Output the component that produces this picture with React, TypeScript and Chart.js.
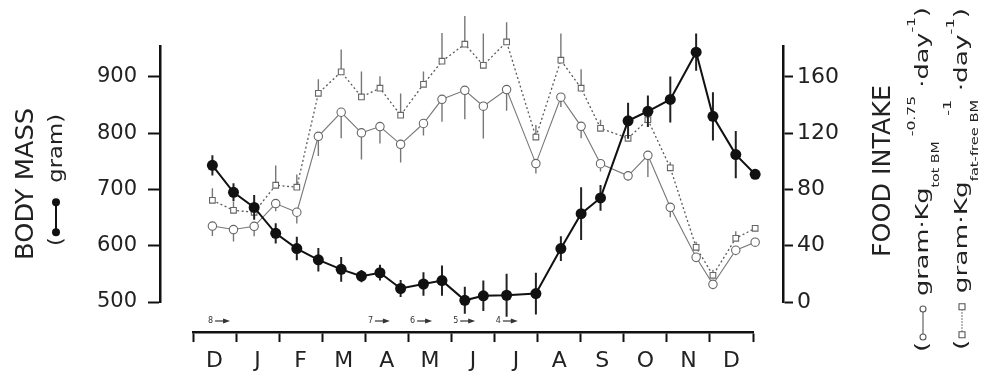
import React, { useEffect, useRef } from 'react';
import { Chart, registerables } from 'chart.js';

Chart.register(...registerables);

// ---------- data ----------
const MONTHS = ['D', 'J', 'F', 'M', 'A', 'M', 'J', 'J', 'A', 'S', 'O', 'N', 'D'];
// sampling times, in months from the start of the first December
const SAMPLE_MONTH = [0.45, 0.94, 1.42, 1.92, 2.41, 2.91, 3.44, 3.91, 4.34, 4.82, 5.35, 5.78, 6.31, 6.74, 7.28, 7.96, 8.54, 9.01, 9.46, 10.1, 10.56, 11.08, 11.68, 12.07, 12.6, 13.05];
const BODY_MASS = [743, 695, 668, 622, 595, 575, 558, 546, 552, 524, 532, 538, 503, 511, 512, 515, 595, 657, 685, 822, 839, 860, 944, 830, 762, 727];
const BODY_MASS_SE = [18, 16, 22, 18, 21, 21, 22, 11, 14, 15, 21, 27, 24, 27, 38, 37, 22, 47, 23, 32, 28, 41, 33, 43, 42, 47];
const INTAKE_TOT = [54, 51.5, 53.8, 70, 63.8, 117.8, 134.9, 120.3, 124.7, 112.1, 126.9, 144.1, 150.5, 139.2, 151, 98.4, 145.6, 124.9, 98.3, 89.7, 104.3, 67.3, 31.8, 12.6, 36.8, 42.5];
const INTAKE_TOT_SE = [7, 8.5, 7, 5.5, 8, 14, 18.5, 19, 12, 13, 8.5, 16, 20.5, 23, 15, 7, 7, 8.5, 5.5, 3.5, 15.5, 7, 3.5, 3.5, 3.5, 3.5];
const INTAKE_FF = [72.3, 65.2, 63.8, 83, 81.6, 148.4, 163.6, 145.8, 152, 132.8, 154.8, 171.2, 183.3, 168.3, 184.9, 117.3, 171.9, 152, 123.5, 116.4, 129.6, 95.4, 38.9, 19, 45.3, 52.4];
const INTAKE_FF_SE = [8.5, 6, 6, 14, 9, 10, 16, 18, 8.5, 15.5, 9, 20, 20, 22.5, 14, 8.5, 19, 13.5, 6, 6, 10, 4, 4, 4, 5, 6];
const MASS_TICKS = [500, 600, 700, 800, 900];
const INTAKE_TICKS = [0, 40, 80, 120, 160];
const ARROW_LABELS = ['8', '7', '6', '5', '4'];
const ARROW_MONTH = [0.35, 4.06, 5.04, 6.04, 7.03];

const FAM = '"DejaVu Sans", "Liberation Sans", sans-serif';
const INK = '#222';

// ---------- helpers ----------
const pts = (vals: number[]) => SAMPLE_MONTH.map((m, i) => ({ x: m, y: vals[i] }));
const errPts = (vals: number[], errs: number[], dir: number) =>
  SAMPLE_MONTH.flatMap((m, i) => [
    { x: m, y: dir <= 0 ? vals[i] - errs[i] : vals[i] },
    { x: m, y: dir >= 0 ? vals[i] + errs[i] : vals[i] },
    { x: m, y: null as any },
  ]);

type Run = { t?: string; size?: number; dy?: number; stack?: boolean; sym?: 'dot' | 'circle' | 'square'; len?: number };

function drawSym(ctx: CanvasRenderingContext2D, kind: string, x: number, len: number, cy: number) {
  const a = x + 5, b = x + len - 5;
  ctx.save();
  if (kind === 'dot') {
    ctx.strokeStyle = '#111'; ctx.fillStyle = '#111'; ctx.lineWidth = 2;
    ctx.beginPath(); ctx.moveTo(a, cy); ctx.lineTo(b, cy); ctx.stroke();
    [a, b].forEach((p) => { ctx.beginPath(); ctx.arc(p, cy, 4, 0, Math.PI * 2); ctx.fill(); });
  } else {
    ctx.strokeStyle = '#555'; ctx.lineWidth = 1.1;
    if (kind === 'square') ctx.setLineDash([1.5, 1.5]);
    ctx.beginPath(); ctx.moveTo(a + 3, cy); ctx.lineTo(b - 3, cy); ctx.stroke();
    ctx.setLineDash([]);
    ctx.fillStyle = '#fff';
    [a, b].forEach((p) => {
      ctx.beginPath();
      if (kind === 'circle') ctx.arc(p, cy, 3, 0, Math.PI * 2);
      else ctx.rect(p - 3, cy - 3, 6, 6);
      ctx.fill(); ctx.stroke();
    });
  }
  ctx.restore();
}

function drawVertical(ctx: CanvasRenderingContext2D, bx: number, yBottom: number, yTop: number, runs: Run[], symCy: number) {
  const widths = runs.map((r) => {
    if (r.sym) return 0;
    ctx.font = `${r.size}px ${FAM}`;
    return ctx.measureText(r.t as string).width;
  });
  let nat = 0, symLen = 0;
  runs.forEach((r, i) => {
    if (r.sym) symLen += r.len as number;
    else if (!r.stack) nat += widths[i];
  });
  const sx = (yBottom - yTop - symLen) / nat;
  ctx.save();
  ctx.translate(bx, yBottom);
  ctx.rotate(-Math.PI / 2);
  ctx.fillStyle = INK;
  ctx.textAlign = 'left';
  ctx.textBaseline = 'alphabetic';
  let cur = 0;
  runs.forEach((r, i) => {
    if (r.sym) { drawSym(ctx, r.sym, cur, r.len as number, symCy); cur += r.len as number; return; }
    ctx.font = `${r.size}px ${FAM}`;
    const w = widths[i] * sx;
    const x0 = r.stack ? cur - w : cur;
    ctx.save(); ctx.translate(x0, r.dy || 0); ctx.scale(sx, 1); ctx.fillText(r.t as string, 0, 0); ctx.restore();
    if (!r.stack) cur += w;
  });
  ctx.restore();
}

// move the axes outward/downward from the data area, as in the original figure
const AXIS_SHIFT = { left: 33, right: 30, bottom: 30 };
const shiftAxes = {
  id: 'shiftAxes',
  afterLayout(chart: any) {
    const s = chart.scales;
    s.y.left -= AXIS_SHIFT.left; s.y.right -= AXIS_SHIFT.left;
    s.yR.left += AXIS_SHIFT.right; s.yR.right += AXIS_SHIFT.right;
    s.xm.top += AXIS_SHIFT.bottom; s.xm.bottom += AXIS_SHIFT.bottom;
  },
};

const annotations = {
  id: 'annotations',
  afterDraw(chart: any) {
    const ctx: CanvasRenderingContext2D = chart.ctx;
    const xs = chart.scales.x;
    const bottom = chart.chartArea.bottom;
    // small "n →" markers above the month axis
    ctx.save();
    ctx.fillStyle = '#333'; ctx.strokeStyle = '#333';
    ctx.font = `8px ${FAM}`; ctx.textBaseline = 'middle'; ctx.textAlign = 'left';
    ARROW_LABELS.forEach((lab, i) => {
      const x = xs.getPixelForValue(ARROW_MONTH[i]);
      const y = bottom + 19;
      ctx.fillText(lab, x, y);
      const a = x + 7, b = x + 22;
      ctx.lineWidth = 1.2;
      ctx.beginPath(); ctx.moveTo(a, y); ctx.lineTo(b - 5, y); ctx.stroke();
      ctx.beginPath(); ctx.moveTo(b, y); ctx.lineTo(b - 7, y - 2.5); ctx.lineTo(b - 7, y + 2.5); ctx.closePath(); ctx.fill();
    });
    ctx.restore();

    // axis titles
    drawVertical(ctx, 33, 260, 108, [{ t: 'BODY MASS', size: 25 }], 0);
    drawVertical(ctx, 62, 246, 114, [{ t: '(', size: 20 }, { sym: 'dot', len: 40 }, { t: '  gram)', size: 20 }], -6);
    drawVertical(ctx, 890, 257, 85, [{ t: 'FOOD INTAKE', size: 25 }], 0);
    drawVertical(ctx, 928, 352, 7, [
      { t: '(', size: 18 }, { sym: 'circle', len: 38 }, { t: ' gram·Kg', size: 18 },
      { t: 'tot BM', size: 10, dy: 11 }, { t: ' -0.75', size: 11, dy: -13 },
      { t: ' ·day', size: 18 }, { t: '-1', size: 11, dy: -13 }, { t: ')', size: 18 },
    ], -5);
    drawVertical(ctx, 967, 350, 8, [
      { t: '(', size: 18 }, { sym: 'square', len: 38 }, { t: ' gram·Kg', size: 18 },
      { t: 'fat-free BM', size: 10, dy: 11 }, { t: '-1', size: 11, dy: -16, stack: true },
      { t: ' ·day', size: 18 }, { t: '-1', size: 11, dy: -13 }, { t: ')', size: 18 },
    ], -5);
  },
};

export default function App() {
  const ref = useRef<HTMLCanvasElement>(null);
  useEffect(() => {
    document.body.style.margin = '0';
    document.body.style.background = '#fff';
    const lineBase = { xAxisID: 'x', tension: 0, clip: false as any };
    const chart = new Chart(ref.current as HTMLCanvasElement, {
      type: 'line',
      data: {
        labels: MONTHS,
        datasets: [
          {
            ...lineBase, label: 'Body mass', data: pts(BODY_MASS), yAxisID: 'y',
            borderColor: '#111', borderWidth: 2, pointRadius: 5.5, pointBackgroundColor: '#111',
            pointBorderColor: '#111', pointBorderWidth: 0, order: 0,
          },
          {
            ...lineBase, label: 'Body mass SE', data: errPts(BODY_MASS, BODY_MASS_SE, 0), yAxisID: 'y',
            borderColor: '#222', borderWidth: 2, pointRadius: 0, spanGaps: false, order: 1,
          },
          {
            ...lineBase, label: 'Intake fat-free BM', data: pts(INTAKE_FF), yAxisID: 'yR',
            borderColor: '#5a5a5a', borderWidth: 1.3, borderDash: [2, 2.5], pointStyle: 'rect', pointRadius: 4,
            pointBackgroundColor: '#fff', pointBorderColor: '#666', pointBorderWidth: 1.1, order: 2,
          },
          {
            ...lineBase, label: 'Intake tot BM', data: pts(INTAKE_TOT), yAxisID: 'yR',
            borderColor: '#777', borderWidth: 1.1, pointStyle: 'circle', pointRadius: 4.2,
            pointBackgroundColor: '#fff', pointBorderColor: '#666', pointBorderWidth: 1.1, order: 3,
          },
          {
            ...lineBase, label: 'Intake fat-free SE', data: errPts(INTAKE_FF, INTAKE_FF_SE, 1), yAxisID: 'yR',
            borderColor: '#777', borderWidth: 1.4, pointRadius: 0, spanGaps: false, order: 4,
          },
          {
            ...lineBase, label: 'Intake tot SE', data: errPts(INTAKE_TOT, INTAKE_TOT_SE, -1), yAxisID: 'yR',
            borderColor: '#777', borderWidth: 1.4, pointRadius: 0, spanGaps: false, order: 5,
          },
        ] as any,
      },
      options: {
        animation: false,
        responsive: true,
        maintainAspectRatio: false,
        events: [],
        layout: { padding: { left: 0, right: 0, top: 46, bottom: 0 } },
        plugins: { legend: { display: false }, tooltip: { enabled: false } },
        scales: {
          x: { type: 'linear', min: 0, max: 13, display: false, offset: false },
          xm: {
            type: 'category', position: 'bottom', labels: MONTHS, offset: true,
            grid: { offset: true, drawOnChartArea: false, drawTicks: true, tickLength: 10, tickWidth: 2, tickColor: '#111' },
            border: { display: true, color: '#111', width: 2.5 },
            ticks: { font: { family: FAM, size: 22 }, color: INK, padding: 6, autoSkip: false, maxRotation: 0 },
            afterFit: (s: any) => { s.height = 75; },
          },
          y: {
            type: 'linear', position: 'left', min: 500, max: 955,
            afterBuildTicks: (s: any) => { s.ticks = MASS_TICKS.map((v) => ({ value: v })); },
            grid: { drawOnChartArea: false, drawTicks: true, tickLength: 12, tickWidth: 2, tickColor: '#111' },
            border: { display: true, color: '#111', width: 2.5 },
            ticks: { font: { family: FAM, size: 21 }, color: INK, padding: 11 },
            afterFit: (s: any) => { s.width = 193; },
          },
          yR: {
            type: 'linear', position: 'right', min: 0, max: 182,
            afterBuildTicks: (s: any) => { s.ticks = INTAKE_TICKS.map((v) => ({ value: v })); },
            grid: { drawOnChartArea: false, drawTicks: true, tickLength: 10, tickWidth: 2, tickColor: '#111' },
            border: { display: true, color: '#111', width: 2.5 },
            ticks: { font: { family: FAM, size: 22 }, color: INK, padding: 4 },
            afterFit: (s: any) => { s.width = 230; },
          },
        } as any,
      },
      plugins: [shiftAxes, annotations],
    });
    return () => chart.destroy();
  }, []);
  return (
    <div style={{ position: 'relative', width: 983, height: 377, background: '#fff' }}>
      <canvas ref={ref} />
    </div>
  );
}
